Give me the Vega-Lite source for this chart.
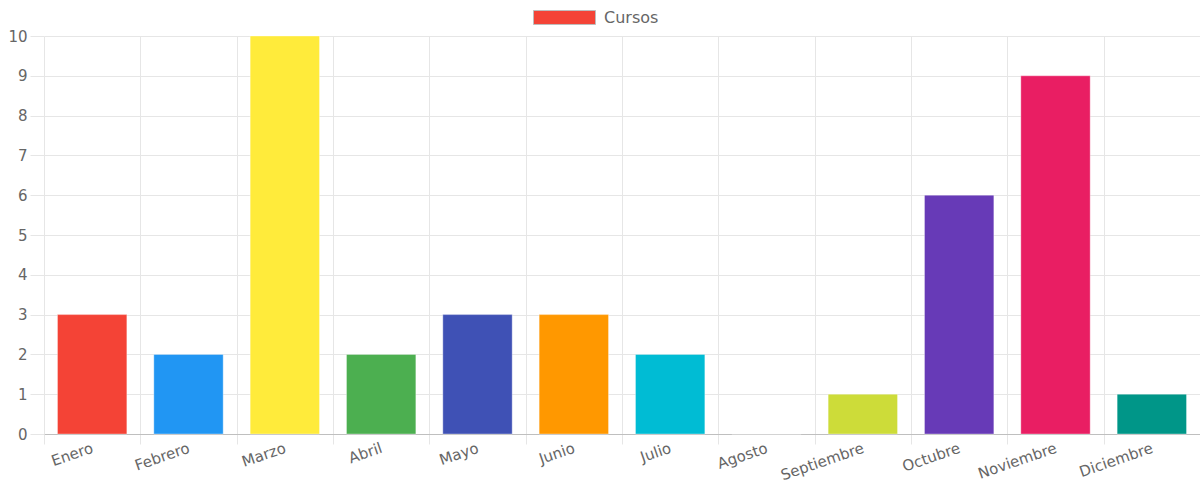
{
  "$schema": "https://vega.github.io/schema/vega-lite/v6.json",
  "width": 1156,
  "height": 398,
  "autosize": {"type": "none"},
  "padding": {"left": 44, "top": 36, "right": 0, "bottom": 52},
  "background": "white",
  "data": {
    "values": [
      {"mes": "Enero", "cursos": 3},
      {"mes": "Febrero", "cursos": 2},
      {"mes": "Marzo", "cursos": 10},
      {"mes": "Abril", "cursos": 2},
      {"mes": "Mayo", "cursos": 3},
      {"mes": "Junio", "cursos": 3},
      {"mes": "Julio", "cursos": 2},
      {"mes": "Agosto", "cursos": 0},
      {"mes": "Septiembre", "cursos": 1},
      {"mes": "Octubre", "cursos": 6},
      {"mes": "Noviembre", "cursos": 9},
      {"mes": "Diciembre", "cursos": 1}
    ]
  },
  "layer": [
    {
      "mark": {"type": "bar", "width": {"band": 0.72}, "stroke": "#ffffff", "strokeOpacity": 0.35, "strokeWidth": 1},
      "encoding": {
        "x": {
          "field": "mes", "type": "nominal", "sort": null,
          "scale": {"paddingInner": 0, "paddingOuter": 0},
          "axis": {
            "title": null, "labelAngle": -19, "labelAlign": "right", "labelBaseline": "middle",
            "tickBand": "extent", "grid": true, "gridColor": "#e6e6e6", "tickColor": "#e6e6e6",
            "tickSize": 10, "domainColor": "#bfbfbf", "labelColor": "#666666",
            "labelFontSize": 15, "labelPadding": 3, "labelFont": "DejaVu Sans"
          }
        },
        "y": {
          "field": "cursos", "type": "quantitative",
          "scale": {"domain": [0, 10], "nice": false},
          "axis": {
            "title": null, "values": [0, 1, 2, 3, 4, 5, 6, 7, 8, 9, 10], "domain": false,
            "gridColor": "#e6e6e6", "tickColor": "#e6e6e6", "tickSize": 14, "labelPadding": 3,
            "labelColor": "#666666", "labelFontSize": 15, "labelFont": "DejaVu Sans"
          }
        },
        "color": {
          "field": "mes", "type": "nominal", "sort": null,
          "scale": {
            "domain": ["Enero", "Febrero", "Marzo", "Abril", "Mayo", "Junio", "Julio", "Agosto", "Septiembre", "Octubre", "Noviembre", "Diciembre"],
            "range": ["#F44336", "#2196F3", "#FFEB3B", "#4CAF50", "#3F51B5", "#FF9800", "#00BCD4", "#795548", "#CDDC39", "#673AB7", "#E91E63", "#009688"]
          },
          "legend": null
        }
      }
    },
    {
      "mark": {"type": "point", "filled": true, "opacity": 0},
      "encoding": {
        "color": {
          "datum": "Cursos", "type": "nominal",
          "scale": {"range": ["#F44336"]},
          "legend": {
            "title": null, "orient": "none", "legendX": 489, "legendY": -50, "direction": "horizontal",
            "symbolType": "M-1,-0.225H1V0.225H-1Z", "symbolSize": 3844, "symbolOpacity": 1,
            "symbolStrokeColor": "#bdbdbd", "symbolStrokeWidth": 1,
            "labelFontSize": 16, "labelColor": "#666666", "labelOffset": 8, "padding": 0,
            "labelFont": "DejaVu Sans"
          }
        }
      }
    }
  ],
  "resolve": {"scale": {"color": "independent"}},
  "config": {"view": {"stroke": null}}
}
